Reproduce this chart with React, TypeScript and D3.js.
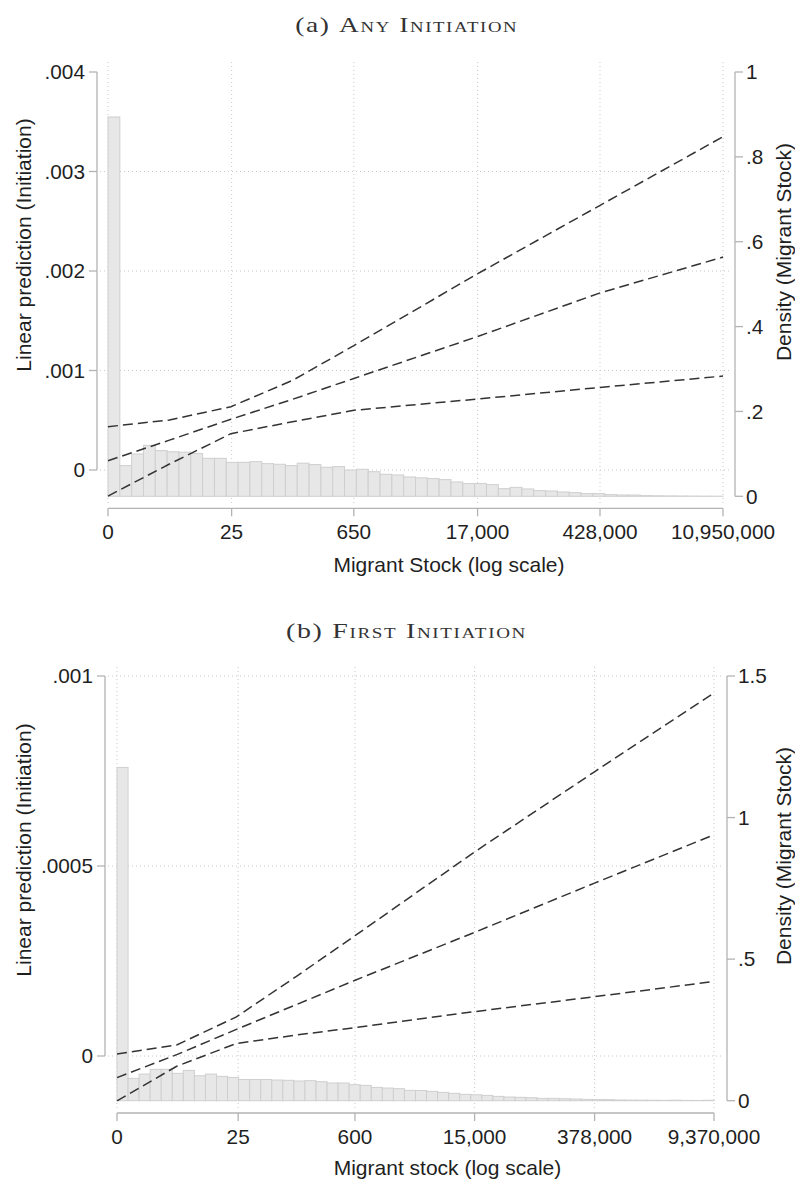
import React from 'react';
import * as d3 from 'd3';

// ---------------- Panel (a): Any Initiation ----------------
const titleLabelA = '(a)';
const titleTextA = 'Any Initiation';
const xTitleA = 'Migrant Stock (log scale)';
const xTickStockA = [0, 25, 650, 17000, 428000, 10950000];
const leftTicksA = [0, 0.001, 0.002, 0.003, 0.004];
const rightTicksA = [0, 0.2, 0.4, 0.6, 0.8, 1];
const histDensityA = [
  0.894, 0.0723, 0.0998, 0.12, 0.1077, 0.105, 0.104, 0.101, 0.0896, 0.0896,
  0.08, 0.08, 0.0818, 0.077, 0.0755, 0.0723, 0.078, 0.0747, 0.0684, 0.07,
  0.062, 0.0637, 0.058, 0.0519, 0.0503, 0.0456, 0.0435, 0.0417, 0.0393, 0.0338,
  0.03, 0.03, 0.0275, 0.018, 0.0212, 0.0173, 0.0134, 0.0126, 0.0102, 0.0086,
  0.0063, 0.0063, 0.0039, 0.0031, 0.003, 0.0016, 0.0012, 0.001, 0.0008, 0.0006,
  0.0004, 0.0003,
];
const evalLogStockA = [0, 1.62, 3.24, 4.86, 6.48, 9.73, 12.97, 16.21];
const upperA = [0.000435, 0.000503, 0.000636, 0.0009, 0.00125, 0.00197, 0.00266, 0.00335];
const predA = [0.000093, 0.0003, 0.00051, 0.00071, 0.00092, 0.00134, 0.00178, 0.00214];
const lowerA = [-0.000262, 0.00006, 0.000365, 0.000485, 0.0006, 0.000713, 0.00083, 0.000944];

// ---------------- Panel (b): First Initiation ----------------
const titleLabelB = '(b)';
const titleTextB = 'First Initiation';
const xTitleB = 'Migrant stock (log scale)';
const xTickStockB = [0, 25, 600, 15000, 378000, 9370000];
const leftTicksB = [0, 0.0005, 0.001];
const rightTicksB = [0, 0.5, 1, 1.5];
const histDensityB = [
  1.177, 0.0789, 0.094, 0.1107, 0.1107, 0.0966, 0.107, 0.088, 0.094, 0.086,
  0.0824, 0.075, 0.075, 0.075, 0.073, 0.072, 0.0695, 0.0707, 0.067, 0.0624,
  0.0624, 0.0565, 0.054, 0.047, 0.0448, 0.0424, 0.0365, 0.036, 0.033, 0.0294,
  0.026, 0.0224, 0.021, 0.0188, 0.0153, 0.013, 0.0118, 0.0106, 0.0082, 0.0082,
  0.007, 0.006, 0.0047, 0.004, 0.0035, 0.0024, 0.002, 0.0018, 0.0015, 0.0012,
  0.0018, 0.001, 0.0008, 0.0015,
];
const evalLogStockB = [0, 1.605, 3.21, 4.815, 6.42, 9.63, 12.84, 16.05];
const upperB = [0.000005, 0.000029, 0.000103, 0.000209, 0.000318, 0.000538, 0.000748, 0.000955];
const predB = [-0.000057, 0.0000035, 0.00007, 0.000135, 0.0002, 0.000326, 0.000455, 0.000582];
const lowerB = [-0.000118, -0.000027, 0.000033, 0.000055, 0.000075, 0.000117, 0.000156, 0.000196];

const yTitleLeft = 'Linear prediction (Initiation)';
const yTitleRight = 'Density (Migrant Stock)';

const SANS = "'Liberation Sans', Arial, Helvetica, sans-serif";
const SERIF = "'Liberation Serif', 'Times New Roman', serif";
const TXT = '#1f1f1f';
const AXIS = '#b3b3b3';
const GRID = '#c8c8c8';
const FS = 20.8;

const fmtY = (v: number) => (v === 0 ? '0' : String(v).replace(/^0\./, '.'));
const fmtX = d3.format(',');

type Layout = {
  titleX: number; titleY: number; titleW: number;
  xRange: [number, number]; region: [number, number, number, number];
  leftRange: [number, number]; rightRange: [number, number];
  xAxisY: number; leftAxisX: number; rightAxisX: number;
  tickLabelY: number; xTitleY: number; xTitleX: number;
  leftTitleX: number; leftTitleY: number; rightTitleX: number; rightTitleY: number;
  gridTop: boolean;
};

type PanelData = {
  label: string; title: string; xTitle: string;
  xTicks: number[]; leftTicks: number[]; rightTicks: number[];
  hist: number[]; evalT: number[]; upper: number[]; pred: number[]; lower: number[];
};

function Panel({ d, L }: { d: PanelData; L: Layout }) {
  const tMax = Math.log(1 + d.xTicks[d.xTicks.length - 1]);
  const x = d3.scaleLinear().domain([0, tMax]).range(L.xRange);
  const yL = d3.scaleLinear().domain([d.leftTicks[0], d.leftTicks[d.leftTicks.length - 1]]).range(L.leftRange);
  const yR = d3.scaleLinear().domain([d.rightTicks[0], d.rightTicks[d.rightTicks.length - 1]]).range(L.rightRange);
  const n = d.hist.length;
  const bw = tMax / n;
  const [rx0, rx1, ry0, ry1] = L.region;
  const line = d3.line<number>().x((_, i) => x(d.evalT[i])).y((v) => yL(v));
  const series = [d.upper, d.pred, d.lower];
  const tickT = d.xTicks.map((v) => Math.log(1 + v));
  const gridY = L.gridTop ? d.leftTicks : d.leftTicks.slice(0, -1);
  return (
    <g>
      <text x={L.titleX} y={L.titleY} textAnchor="middle" fontFamily={SERIF} fontSize={22} fill="#333"
        textLength={L.titleW} lengthAdjust="spacingAndGlyphs" style={{ letterSpacing: '1.3px' }}>
        <tspan>{d.label} </tspan>
        <tspan style={{ fontVariant: 'small-caps' }}>{d.title}</tspan>
      </text>
      {gridY.map((v) => (
        <line key={'gy' + v} x1={rx0} x2={rx1} y1={yL(v)} y2={yL(v)} stroke={GRID} strokeWidth={1} strokeDasharray="1 3" />
      ))}
      {tickT.map((t, i) => (
        <line key={'gx' + i} x1={x(t)} x2={x(t)} y1={ry0} y2={ry1} stroke={GRID} strokeWidth={1} strokeDasharray="1 3" />
      ))}
      {d.hist.map((v, i) => (
        <rect key={'h' + i} x={x(i * bw)} width={x((i + 1) * bw) - x(i * bw)} y={yR(v)} height={yR(0) - yR(v)}
          fill="#e7e7e7" stroke="#cfcfcf" strokeWidth={1} />
      ))}
      {series.map((s, i) => (
        <path key={'s' + i} d={line(s) || ''} fill="none" stroke="#333" strokeWidth={1.5} strokeDasharray="10 5" />
      ))}
      <line x1={L.leftAxisX} x2={L.leftAxisX} y1={yL(d.leftTicks[0])} y2={yL(d.leftTicks[d.leftTicks.length - 1])} stroke={AXIS} strokeWidth={1.3} />
      {d.leftTicks.map((v) => (
        <g key={'lt' + v}>
          <line x1={L.leftAxisX - 8} x2={L.leftAxisX} y1={yL(v)} y2={yL(v)} stroke={AXIS} strokeWidth={1.3} />
          <text x={L.leftAxisX - 12} y={yL(v)} dy="0.35em" textAnchor="end" fontFamily={SANS} fontSize={FS} fill={TXT}>{fmtY(v)}</text>
        </g>
      ))}
      <line x1={L.rightAxisX} x2={L.rightAxisX} y1={yR(d.rightTicks[0])} y2={yR(d.rightTicks[d.rightTicks.length - 1])} stroke={AXIS} strokeWidth={1.3} />
      {d.rightTicks.map((v) => (
        <g key={'rt' + v}>
          <line x1={L.rightAxisX} x2={L.rightAxisX + 8} y1={yR(v)} y2={yR(v)} stroke={AXIS} strokeWidth={1.3} />
          <text x={L.rightAxisX + 11} y={yR(v)} dy="0.35em" textAnchor="start" fontFamily={SANS} fontSize={FS} fill={TXT}>{fmtY(v)}</text>
        </g>
      ))}
      <line x1={x(0)} x2={x(tMax)} y1={L.xAxisY} y2={L.xAxisY} stroke={AXIS} strokeWidth={1.3} />
      {tickT.map((t, i) => (
        <g key={'xt' + i}>
          <line x1={x(t)} x2={x(t)} y1={L.xAxisY} y2={L.xAxisY + 8} stroke={AXIS} strokeWidth={1.3} />
          <text x={x(t)} y={L.tickLabelY} textAnchor="middle" fontFamily={SANS} fontSize={FS} fill={TXT}>{fmtX(d.xTicks[i])}</text>
        </g>
      ))}
      <text x={L.xTitleX} y={L.xTitleY} textAnchor="middle" fontFamily={SANS} fontSize={21} fill={TXT}>{d.xTitle}</text>
      <text transform={`translate(${L.leftTitleX},${L.leftTitleY}) rotate(-90)`} textAnchor="middle" fontFamily={SANS} fontSize={21} fill={TXT}>{yTitleLeft}</text>
      <text transform={`translate(${L.rightTitleX},${L.rightTitleY}) rotate(-90)`} textAnchor="middle" fontFamily={SANS} fontSize={21} fill={TXT}>{yTitleRight}</text>
    </g>
  );
}

const layoutA: Layout = {
  titleX: 406.7, titleY: 31.7, titleW: 223,
  xRange: [108, 723], region: [100, 732, 62, 504],
  leftRange: [470, 72], rightRange: [496.3, 72],
  xAxisY: 508.3, leftAxisX: 97, rightAxisX: 735,
  tickLabelY: 539, xTitleY: 572, xTitleX: 449,
  leftTitleX: 30.5, leftTitleY: 245, rightTitleX: 790.5, rightTitleY: 252,
  gridTop: false,
};

const layoutB: Layout = {
  titleX: 406.5, titleY: 637.5, titleW: 241,
  xRange: [117, 714], region: [108, 722, 667, 1108],
  leftRange: [1056, 676], rightRange: [1100.7, 676],
  xAxisY: 1113, leftAxisX: 105, rightAxisX: 727,
  tickLabelY: 1144, xTitleY: 1175, xTitleX: 447.5,
  leftTitleX: 30.5, leftTitleY: 850, rightTitleX: 790.5, rightTitleY: 856,
  gridTop: true,
};

export default function App() {
  const dA: PanelData = {
    label: titleLabelA, title: titleTextA, xTitle: xTitleA, xTicks: xTickStockA,
    leftTicks: leftTicksA, rightTicks: rightTicksA, hist: histDensityA,
    evalT: evalLogStockA, upper: upperA, pred: predA, lower: lowerA,
  };
  const dB: PanelData = {
    label: titleLabelB, title: titleTextB, xTitle: xTitleB, xTicks: xTickStockB,
    leftTicks: leftTicksB, rightTicks: rightTicksB, hist: histDensityB,
    evalT: evalLogStockB, upper: upperB, pred: predB, lower: lowerB,
  };
  return (
    <svg width={795} height={1179} viewBox="0 0 795 1179"
      style={{ position: 'absolute', left: 0, top: 0, background: '#fff' }}>
      <rect x={0} y={0} width={795} height={1179} fill="#fff" />
      <Panel d={dA} L={layoutA} />
      <Panel d={dB} L={layoutB} />
    </svg>
  );
}
